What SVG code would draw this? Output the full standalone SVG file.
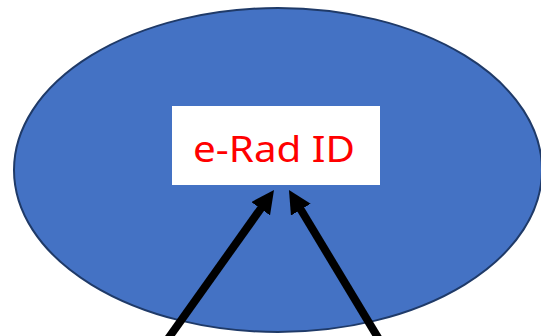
<svg xmlns="http://www.w3.org/2000/svg" width="541" height="336" viewBox="0 0 541 336">
<defs>
<style>
.oval{fill:#4472C4;stroke:#1F3A68;stroke-width:2}
.box{fill:#FFFFFF}
.lbl{font-family:"Noto Sans","Liberation Sans",sans-serif;font-size:36px;fill:#FF0000}
.arrow{stroke:#000000;stroke-width:8;fill:none}
</style>
<marker id="head" viewBox="0 0 23 23" refX="8" refY="11.5" markerWidth="23" markerHeight="23" markerUnits="userSpaceOnUse" orient="auto">
<path d="M0,0 L23,11.5 L0,23 Z" fill="#000000"/>
</marker>
</defs>
<g id="oval-node">
<ellipse class="oval" cx="278" cy="170" rx="264" ry="162"/>
</g>
<g id="erad-id">
<rect class="box" x="172" y="106" width="208" height="79"/>
<text class="lbl" x="193" y="162" textLength="162" lengthAdjust="spacingAndGlyphs">e-Rad ID</text>
</g>
<g id="connectors">
<line class="arrow" x1="164.2" y1="344.1" x2="265.3" y2="202.2" marker-end="url(#head)"/>
<line class="arrow" x1="382.2" y1="344.6" x2="296.7" y2="202.8" marker-end="url(#head)"/>
</g>
</svg>
